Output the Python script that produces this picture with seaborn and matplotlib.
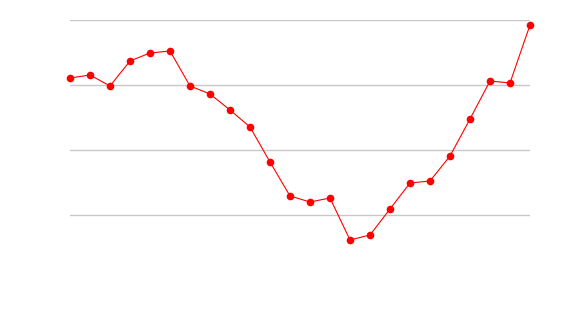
import matplotlib
matplotlib.use("Agg")
import matplotlib.pyplot as plt
import seaborn as sns
import pandas as pd

idx = list(range(24))
values = [42.15, 43.08, 39.69, 47.38, 49.85, 50.46, 39.69, 37.23, 32.31, 27.08,
          16.31, 5.85, 4.0, 5.23, -7.69, -6.15, 1.85, 9.85, 10.46, 18.15,
          29.54, 41.23, 40.62, 58.46]
yticks = [0, 20, 40, 60]

sns.set_theme(style="white")
fig = plt.figure(figsize=(5.7, 3.2), dpi=100)
ax = fig.add_axes([70/570, 1 - 273.5/320, 460/570, (273.5 - 19.5)/320])
df = pd.DataFrame({"x": idx, "y": values})
sns.lineplot(data=df, x="x", y="y", ax=ax, color="red", linewidth=0.8,
             marker="o", markersize=5.5, markeredgewidth=0, clip_on=False)
ax.set_xlim(0, 23)
ax.set_ylim(-18, 60.15)
ax.set_yticks(yticks)
ax.yaxis.grid(True, color="#c8c8c8", linewidth=1)
ax.xaxis.grid(False)
ax.set_axisbelow(True)
for s in ax.spines.values():
    s.set_visible(False)
ax.tick_params(left=False, bottom=False, labelleft=False, labelbottom=False)
ax.set_xlabel("")
ax.set_ylabel("")
fig.savefig("out.png", dpi=100)
